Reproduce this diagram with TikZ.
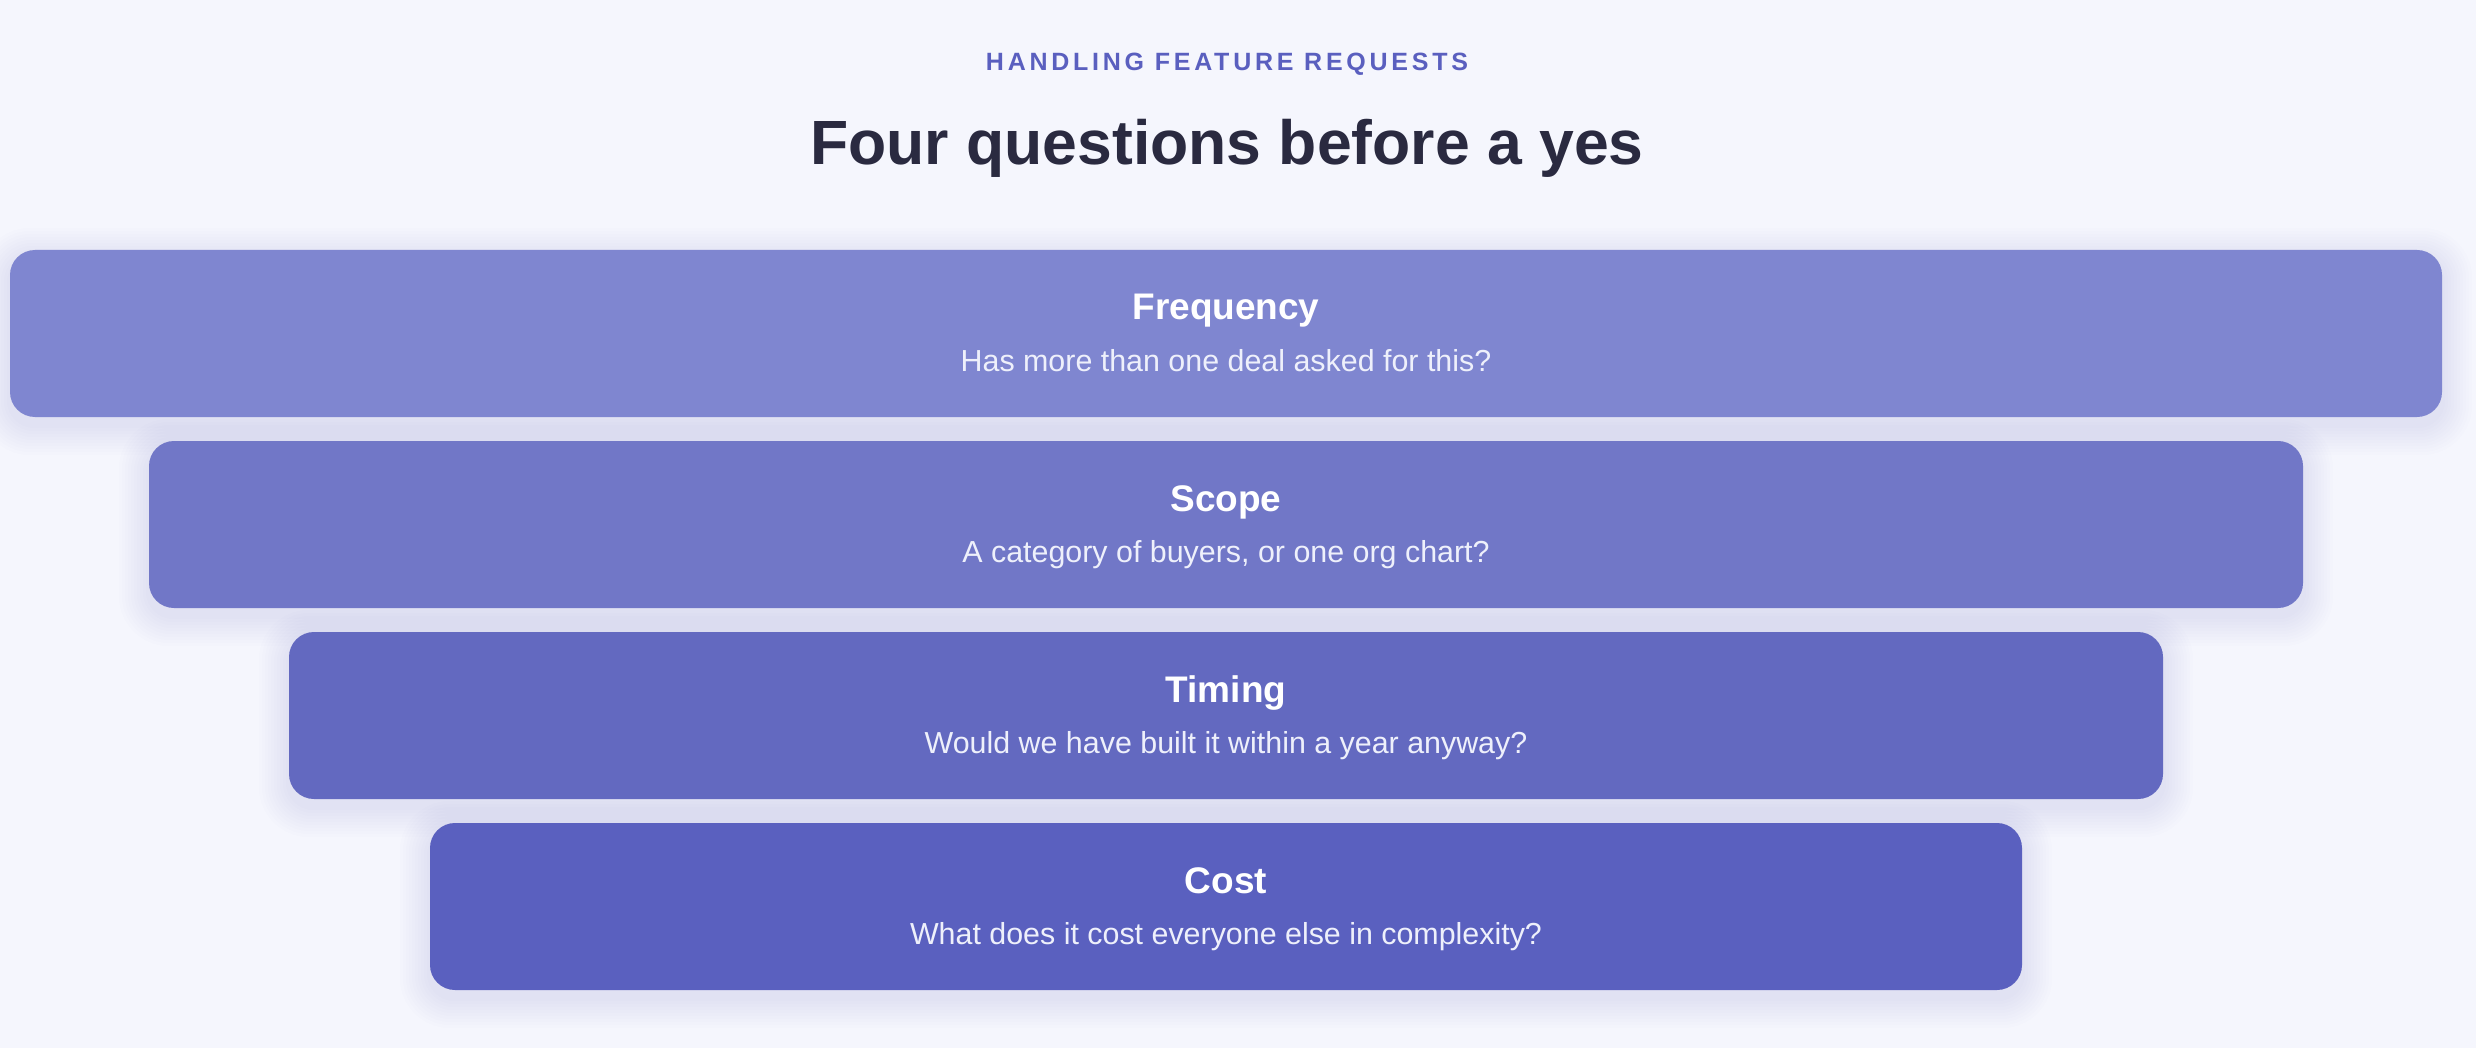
\documentclass[tikz,border=0pt]{standalone}
\usepackage{fontspec}
\setmainfont{Liberation Sans}
\newfontfamily\spacedfont[LetterSpace=15]{Liberation Sans}
\definecolor{bgc}{HTML}{F5F6FD}
\definecolor{c1}{HTML}{7F86D0}
\definecolor{c2}{HTML}{7177C7}
\definecolor{c3}{HTML}{6369C0}
\definecolor{c4}{HTML}{5A60BF}
\definecolor{shadowc}{HTML}{5A60BF}
\definecolor{titlec}{HTML}{2A2A40}
\definecolor{kickerc}{HTML}{5A5FBF}
\definecolor{subc}{HTML}{EEF0FB}
\newcommand{\boxshadow}[3]{%
  \foreach \i in {1,...,10}{%
    \pgfmathsetmacro\rr{25+\i*2.5}%
    \fill[shadowc, opacity=0.011, rounded corners=\rr pt]
      ({#1-#3-\i*3}, {#2+8-\i*3}) rectangle ({#1+#3+\i*3}, {#2+167+8+\i*3});
  }}
\begin{document}
\begin{tikzpicture}[x=1pt,y=-1pt,
  qbox/.style={rectangle, rounded corners=25pt, inner sep=0pt, draw=none, minimum height=167pt},
  headtext/.style={anchor=base, text=white, font=\bfseries\fontsize{37}{42}\selectfont, inner sep=0pt},
  subtext/.style={anchor=base, text=subc, font=\fontsize{30.4}{35}\selectfont, inner sep=0pt}]
\fill[bgc] (0,0) rectangle (2476,1048);
\useasboundingbox (0,0) rectangle (2476,1048);
\node[anchor=base, text=kickerc, font=\spacedfont\bfseries\fontsize{25}{30}\selectfont, inner sep=0pt] (kicker) at (1227,71) {HANDLING FEATURE REQUESTS};
\node[anchor=base, text=titlec, font=\bfseries\fontsize{62.5}{72}\selectfont, inner sep=0pt] (title) at (1227,165) {Four questions before a yes};
% box 1
\boxshadow{1226}{250}{1216}
\node[qbox, fill=c1, minimum width=2432pt] (b1) at (1226,333.5) {};
\node[headtext] (h1) at (1226,320) {Frequency};
\node[subtext] (s1) at (1226,371) {Has more than one deal asked for this?};
% box 2
\boxshadow{1226}{441}{1077}
\node[qbox, fill=c2, minimum width=2154pt] (b2) at (1226,524.5) {};
\node[headtext] (h2) at (1226,511) {Scope};
\node[subtext] (s2) at (1226,562) {A category of buyers, or one org chart?};
% box 3
\boxshadow{1226}{632}{937}
\node[qbox, fill=c3, minimum width=1874pt] (b3) at (1226,715.5) {};
\node[headtext] (h3) at (1226,702) {Timing};
\node[subtext] (s3) at (1226,753) {Would we have built it within a year anyway?};
% box 4
\boxshadow{1226}{823}{796}
\node[qbox, fill=c4, minimum width=1592pt] (b4) at (1226,906.5) {};
\node[headtext] (h4) at (1226,893) {Cost};
\node[subtext] (s4) at (1226,944) {What does it cost everyone else in complexity?};
\end{tikzpicture}
\end{document}
